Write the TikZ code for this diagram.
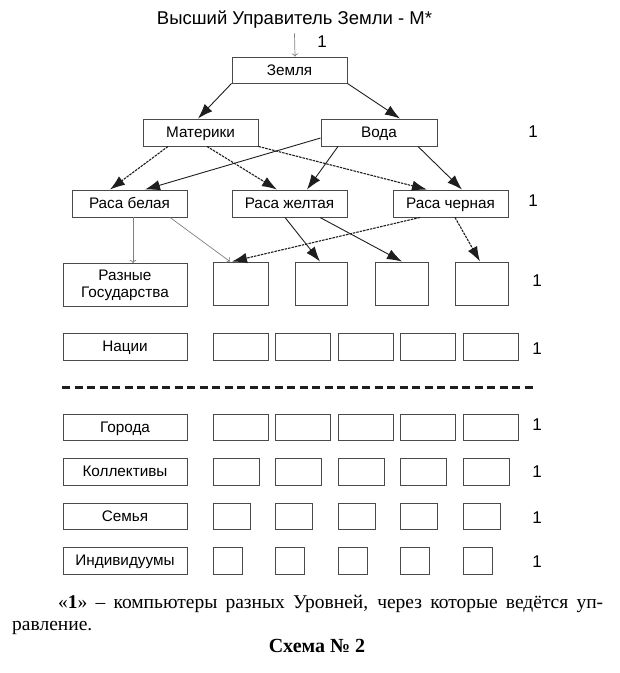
\documentclass[tikz,border=0pt]{standalone}
\usepackage{fontspec}
\setmainfont{Liberation Sans}
\newfontfamily\capfont{Liberation Serif}
\usetikzlibrary{arrows.meta}
\definecolor{boxgray}{HTML}{4A4A4A}
\definecolor{linegray}{HTML}{1E1E1E}
\begin{document}
\begin{tikzpicture}[x=1pt,y=-1pt]
\tikzstyle{box}=[draw=boxgray, line width=0.9pt, minimum height=27pt, inner sep=0pt, text height=10.8pt, text depth=0pt, font=\fontsize{15.3}{17}\selectfont]
\tikzstyle{cell}=[draw=boxgray, line width=0.9pt, inner sep=0pt]
\tikzstyle{lvl}=[font=\fontsize{17}{19}\selectfont]
\tikzstyle{main}=[draw=linegray, line width=0.9pt, -{Latex[length=15pt,width=10.5pt]}]
\tikzstyle{weak}=[main, line width=1.1pt, dash pattern=on 2.5pt off 1pt]
\tikzstyle{thin}=[draw=gray, line width=0.7pt, ->]

\useasboundingbox (0,0) rectangle (620,673);

% top
\node[font=\fontsize{18.5}{20}\selectfont] (ruler) at (294.5,20) {Высший Управитель Земли - М*};
\node[lvl] (l_0) at (322,42) {1};

\node[box, minimum width=115pt, minimum height=26pt] (earth) at (289.5,70) {Земля};

\node[box, minimum width=115pt] (land) at (200.5,132.5) {Материки};
\node[box, minimum width=116pt] (water) at (379,132.5) {Вода};

\node[box, minimum width=115pt] (white) at (129.5,203.5) {Раса белая};
\node[box, minimum width=115pt] (yellow) at (289.5,203.5) {Раса желтая};
\node[box, minimum width=115pt] (black) at (450.5,203.5) {Раса черная};

% states
\node[box, minimum width=124pt, minimum height=43pt, text height=, text depth=, align=center] (states) at (125,285) {Разные\\Государства};
\node[cell, minimum width=55pt, minimum height=43pt] (g_1) at (240.5,283.5) {};
\node[cell, minimum width=52pt, minimum height=43pt] (g_2) at (321,283.5) {};
\node[cell, minimum width=53pt, minimum height=43pt] (g_3) at (401.5,283.5) {};
\node[cell, minimum width=53pt, minimum height=43pt] (g_4) at (481.5,283.5) {};

% nations
\node[box, minimum width=124pt] (nations) at (125,346.5) {Нации};
\node[cell, minimum width=55pt, minimum height=27pt] (n_1) at (240.5,346.5) {};
\node[cell, minimum width=55pt, minimum height=27pt] (n_2) at (303,346.5) {};
\node[cell, minimum width=55pt, minimum height=27pt] (n_3) at (365.5,346.5) {};
\node[cell, minimum width=55pt, minimum height=27pt] (n_4) at (428,346.5) {};
\node[cell, minimum width=55pt, minimum height=27pt] (n_5) at (490.5,346.5) {};

\coordinate (sep_l) at (62,387);
\coordinate (sep_r) at (535,387);
\draw[linegray, line width=3pt, dash pattern=on 8pt off 4.5pt] (sep_l) -- (sep_r);

% cities
\node[box, minimum width=124pt, minimum height=26pt] (cities) at (125,427) {Города};
\node[cell, minimum width=55pt, minimum height=26pt] (c_1) at (240.5,427) {};
\node[cell, minimum width=55pt, minimum height=26pt] (c_2) at (303,427) {};
\node[cell, minimum width=55pt, minimum height=26pt] (c_3) at (365.5,427) {};
\node[cell, minimum width=55pt, minimum height=26pt] (c_4) at (428,427) {};
\node[cell, minimum width=55pt, minimum height=26pt] (c_5) at (490.5,427) {};

% collectives
\node[box, minimum width=124pt] (teams) at (125,471.5) {Коллективы};
\node[cell, minimum width=46pt, minimum height=27pt] (k_1) at (236,471.5) {};
\node[cell, minimum width=46pt, minimum height=27pt] (k_2) at (298.5,471.5) {};
\node[cell, minimum width=46pt, minimum height=27pt] (k_3) at (361,471.5) {};
\node[cell, minimum width=46pt, minimum height=27pt] (k_4) at (423.5,471.5) {};
\node[cell, minimum width=46pt, minimum height=27pt] (k_5) at (486,471.5) {};

% families
\node[box, minimum width=124pt, minimum height=26pt] (family) at (125,516) {Семья};
\node[cell, minimum width=37pt, minimum height=26pt] (f_1) at (231.5,516) {};
\node[cell, minimum width=37pt, minimum height=26pt] (f_2) at (294,516) {};
\node[cell, minimum width=37pt, minimum height=26pt] (f_3) at (356.5,516) {};
\node[cell, minimum width=37pt, minimum height=26pt] (f_4) at (419,516) {};
\node[cell, minimum width=37pt, minimum height=26pt] (f_5) at (481.5,516) {};

% individuals
\node[box, minimum width=124pt] (persons) at (125,560.5) {Индивидуумы};
\node[cell, minimum width=29pt, minimum height=27pt] (i_1) at (227.5,560.5) {};
\node[cell, minimum width=29pt, minimum height=27pt] (i_2) at (290,560.5) {};
\node[cell, minimum width=29pt, minimum height=27pt] (i_3) at (352.5,560.5) {};
\node[cell, minimum width=29pt, minimum height=27pt] (i_4) at (415,560.5) {};
\node[cell, minimum width=29pt, minimum height=27pt] (i_5) at (477.5,560.5) {};

% levels
\node[lvl] (l_1) at (533,132) {1};
\node[lvl] (l_2) at (533,201) {1};
\node[lvl] (l_3) at (537,281) {1};
\node[lvl] (l_4) at (537,349) {1};
\node[lvl] (l_5) at (537,425) {1};
\node[lvl] (l_6) at (537,472) {1};
\node[lvl] (l_7) at (537,518) {1};
\node[lvl] (l_8) at (537,562) {1};

\draw[thin] ([yshift=-1pt]ruler.south) -- ([xshift=5.5pt]earth.north);

\draw[main] (earth.south west) -- ([xshift=-2.5pt]land.north);
\draw[main] (earth.south east) -- ([xshift=21pt]water.north);

\draw[weak] ([xshift=-32.5pt]land.south) -- ([xshift=-19.5pt]white.north);
\draw[weak] ([xshift=6.5pt]land.south) -- ([xshift=-12.5pt]yellow.north);
\draw[weak] (land.south east) -- ([xshift=-23.5pt]black.north);
\draw[main] ([yshift=-5.5pt]water.west) -- ([xshift=15.5pt]white.north);
\draw[main] ([xshift=-41pt]water.south) -- ([xshift=17.5pt]yellow.north);
\draw[main] ([xshift=39pt]water.south) -- ([xshift=11.5pt]black.north);

\draw[thin] ([xshift=3.5pt]white.south) -- ([xshift=8pt]states.north);
\draw[thin] ([xshift=40.5pt]white.south) -- ([xshift=-10.5pt]g_1.north);
\draw[weak] ([xshift=-30.5pt]black.south) -- ([xshift=-8.5pt]g_1.north);
\draw[main] ([xshift=-4.5pt]yellow.south) -- ([xshift=-1pt]g_2.north);
\draw[main] ([xshift=30.5pt]yellow.south) -- ([xshift=0.5pt]g_3.north);
\draw[weak] ([xshift=4.5pt]black.south) -- ([xshift=-1.5pt]g_4.north);

% caption
\node[anchor=base west, inner sep=0pt, font=\capfont\fontsize{19.5}{22}\selectfont] (note_1) at (58,608)
  {\hbox to 545pt{«\textbf{1}» – компьютеры разных Уровней, через которые ведётся уп-}};
\node[anchor=base west, inner sep=0pt, font=\capfont\fontsize{19.5}{22}\selectfont] (note_2) at (12,630) {равление.};
\node[anchor=base, inner sep=0pt, font=\capfont\bfseries\fontsize{20}{22}\selectfont] (scheme) at (317,652) {Схема № 2};
\end{tikzpicture}
\end{document}
